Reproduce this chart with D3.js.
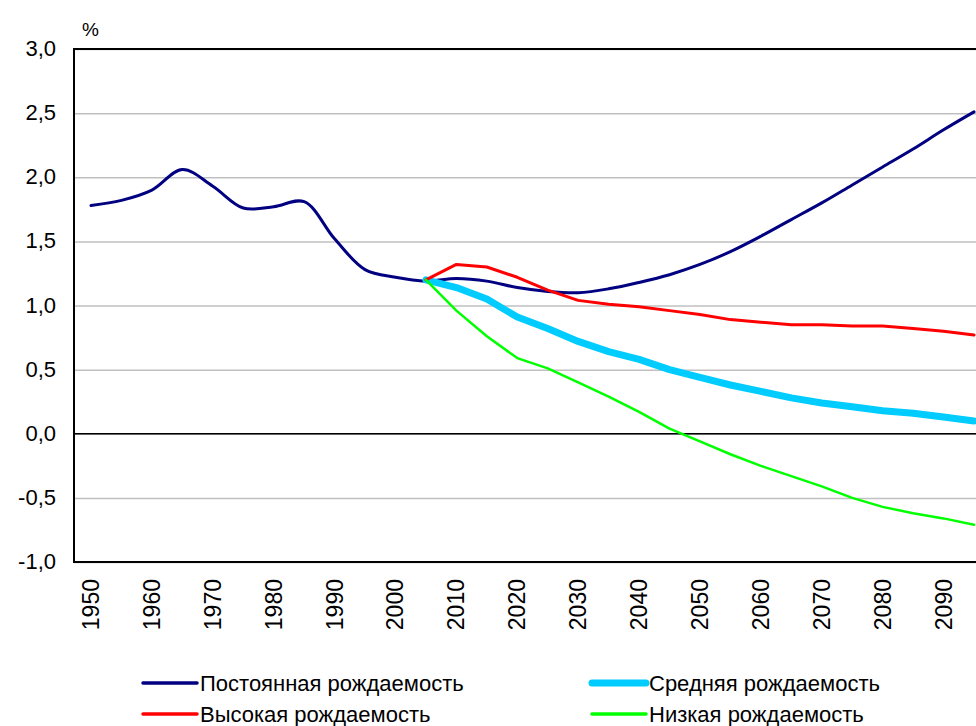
<!DOCTYPE html>
<html>
<head>
<meta charset="utf-8">
<script src="https://cdnjs.cloudflare.com/ajax/libs/d3/7.8.5/d3.min.js"></script>
<style>
  body { margin: 0; background: #fff; }
  text { font-family: "Liberation Sans", Arial, sans-serif; fill: #000; }
</style>
</head>
<body>
<svg id="chart" width="976" height="726"></svg>
<script>
var svg = d3.select("#chart");

// categories (5-year steps)
var years = [1950, 1955, 1960, 1965, 1970, 1975, 1980, 1985, 1990, 1995,
             2000, 2005, 2010, 2015, 2020, 2025, 2030, 2035, 2040, 2045,
             2050, 2055, 2060, 2065, 2070, 2075, 2080, 2085, 2090, 2095];
var projYears = years.slice(11); // 2005..2095

var constantFert = [1.78, 1.82, 1.90, 2.06, 1.93, 1.76, 1.77, 1.81, 1.52, 1.28,
                    1.22, 1.19, 1.21, 1.19, 1.14, 1.11, 1.10, 1.13, 1.18, 1.24,
                    1.32, 1.42, 1.54, 1.67, 1.80, 1.94, 2.08, 2.22, 2.37, 2.51];
var mediumFert = [1.20, 1.14, 1.05, 0.91, 0.82, 0.72, 0.64, 0.58, 0.50, 0.44,
                  0.38, 0.33, 0.28, 0.24, 0.21, 0.18, 0.16, 0.13, 0.10];
var highFert = [1.20, 1.32, 1.30, 1.22, 1.12, 1.04, 1.01, 0.99, 0.96, 0.93,
                0.89, 0.87, 0.85, 0.85, 0.84, 0.84, 0.82, 0.80, 0.77];
var lowFert = [1.20, 0.96, 0.76, 0.59, 0.51, 0.40, 0.29, 0.17, 0.04, -0.06,
               -0.16, -0.25, -0.33, -0.41, -0.50, -0.57, -0.62, -0.66, -0.71];

var yTicks = [-1.0, -0.5, 0.0, 0.5, 1.0, 1.5, 2.0, 2.5, 3.0];
var xLabels = [1950, 1960, 1970, 1980, 1990, 2000, 2010, 2020, 2030, 2040,
               2050, 2060, 2070, 2080, 2090];

var series = [
  { name: "Постоянная рождаемость", x: years, y: constantFert, color: "#000080", w: 3, smooth: true },
  { name: "Средняя рождаемость", x: projYears, y: mediumFert, color: "#00CCFF", w: 7, smooth: false },
  { name: "Высокая рождаемость", x: projYears, y: highFert, color: "#FF0000", w: 3, smooth: false },
  { name: "Низкая рождаемость", x: projYears, y: lowFert, color: "#00FF00", w: 2.5, smooth: false }
];

// plot box (right side runs off the page like the original)
var plotLeft = 74, plotTop = 49, plotBottom = 562, plotRight = 1000;

var x = d3.scaleLinear().domain([1950, 2095]).range([91, 974]);
var y = d3.scaleLinear().domain([-1, 3]).range([plotBottom, plotTop]);
// comma decimals, plain hyphen for minus
var fmt = function (d) { return d.toFixed(1).replace(".", ","); };

// gridlines
svg.append("g")
  .attr("transform", "translate(" + plotLeft + ",0)")
  .call(d3.axisLeft(y).tickValues(yTicks).tickSize(-(plotRight - plotLeft)).tickFormat(""))
  .call(function (g) {
    g.select(".domain").remove();
    g.selectAll(".tick line").attr("stroke", "#c0c0c0").attr("stroke-width", 1.5);
  });

// zero line, frame
svg.append("line").attr("x1", plotLeft).attr("x2", plotRight)
  .attr("y1", y(0)).attr("y2", y(0)).attr("stroke", "#000").attr("stroke-width", 1.5);
svg.append("path")
  .attr("d", "M" + plotRight + "," + plotTop + "H" + plotLeft + "V" + plotBottom + "H" + plotRight)
  .attr("fill", "none").attr("stroke", "#000").attr("stroke-width", 2);

// y labels
svg.selectAll(".ylab").data(yTicks).enter().append("text")
  .attr("class", "ylab")
  .attr("x", 56).attr("y", function (d) { return y(d) + 7; })
  .attr("text-anchor", "end")
  .style("font-size", "22px")
  .text(fmt);

svg.append("text").attr("x", 82).attr("y", 36).style("font-size", "19px").text("%");

// x labels, rotated
svg.selectAll(".xlab").data(xLabels).enter().append("text")
  .attr("class", "xlab")
  .attr("transform", function (d) { return "translate(" + (x(d) + 8) + ",579)rotate(-90)"; })
  .attr("text-anchor", "end")
  .style("font-size", "23px")
  .text(function (d) { return d; });

// lines
series.forEach(function (s) {
  var line = d3.line()
    .x(function (d, i) { return x(s.x[i]); })
    .y(function (d) { return y(d); })
    .curve(s.smooth ? d3.curveCatmullRom : d3.curveLinear);
  svg.append("path")
    .datum(s.y)
    .attr("d", line)
    .attr("fill", "none")
    .attr("stroke", s.color)
    .attr("stroke-width", s.w)
    .attr("stroke-linejoin", "round")
    .attr("stroke-linecap", "round");
});

// legend, two columns
var legendPos = [[143, 683], [592, 683], [143, 714], [592, 714]];
series.forEach(function (s, i) {
  var p = legendPos[i];
  svg.append("line")
    .attr("x1", p[0]).attr("x2", p[0] + 54)
    .attr("y1", p[1]).attr("y2", p[1])
    .attr("stroke", s.color).attr("stroke-width", s.w === 7 ? 7 : 3.5)
    .attr("stroke-linecap", "round");
  svg.append("text")
    .attr("x", p[0] + 57).attr("y", p[1] + 8)
    .style("font-size", "22px")
    .text(s.name);
});
</script>
</body>
</html>
